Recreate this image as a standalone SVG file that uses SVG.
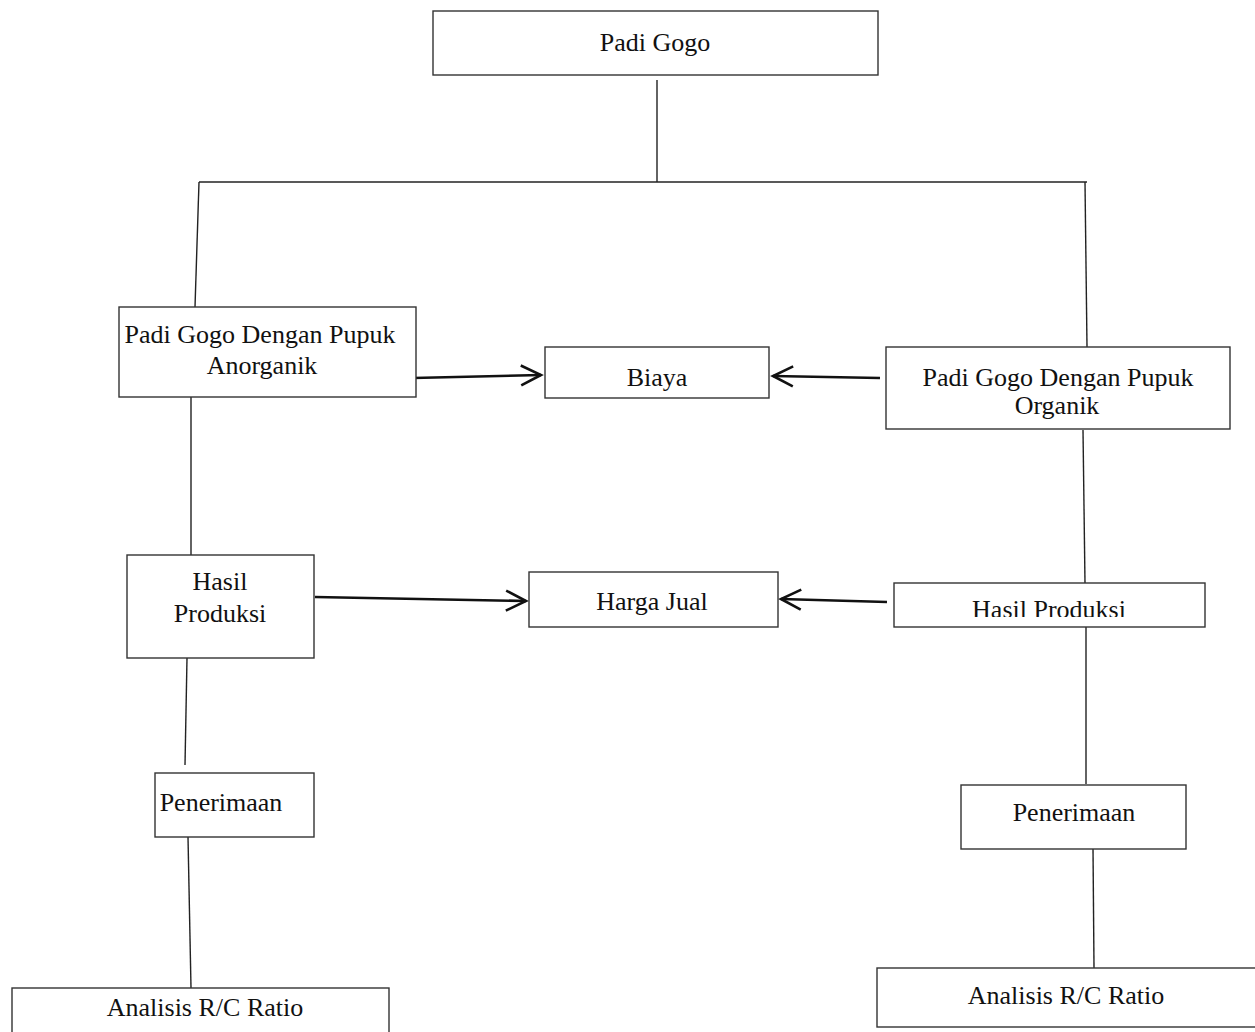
<svg xmlns="http://www.w3.org/2000/svg" width="1255" height="1032" viewBox="0 0 1255 1032">
<style>
.box{fill:#fff;stroke:#333;stroke-width:1.4}
.ln{fill:none;stroke:#222;stroke-width:1.4}
.ar{fill:none;stroke:#111;stroke-width:2.6}
text{font-family:"Liberation Serif","Times New Roman",serif;font-size:26px;fill:#111;text-anchor:middle}
</style>
<defs>
<marker id="chev" viewBox="0 0 26 26" markerWidth="26" markerHeight="26" refX="23" refY="13" orient="auto" markerUnits="userSpaceOnUse">
<path d="M3,3 L23,13 L3,23" fill="none" stroke="#111" stroke-width="2.6"/>
</marker>
<clipPath id="hpclip"><rect x="894" y="583" width="311" height="34"/></clipPath>
</defs>
<rect width="1255" height="1032" fill="#fff"/>
<g id="connectors">
<line class="ln" x1="657" y1="80" x2="657" y2="182"/>
<line class="ln" x1="199" y1="182" x2="1087" y2="182"/>
<line class="ln" x1="199" y1="182" x2="195" y2="307"/>
<line class="ln" x1="1085" y1="182" x2="1087" y2="347"/>
<line class="ln" x1="191" y1="397" x2="191" y2="556"/>
<line class="ln" x1="1083" y1="430" x2="1085" y2="583"/>
<line class="ln" x1="1086" y1="627" x2="1086" y2="784"/>
<line class="ln" x1="187" y1="658" x2="185" y2="765"/>
<line class="ln" x1="188" y1="837" x2="191" y2="988"/>
<line class="ln" x1="1093" y1="848" x2="1094" y2="968"/>
<line class="ar" x1="413" y1="378" x2="541" y2="375" marker-end="url(#chev)"/>
<line class="ar" x1="880" y1="378" x2="773" y2="376" marker-end="url(#chev)"/>
<line class="ar" x1="315" y1="597" x2="526" y2="601" marker-end="url(#chev)"/>
<line class="ar" x1="887" y1="602" x2="781" y2="599" marker-end="url(#chev)"/>
</g>
<g id="padi-gogo">
<rect class="box" x="433" y="11" width="445" height="64"/>
<text x="655" y="51">Padi Gogo</text>
</g>
<g id="anorganik">
<rect class="box" x="119" y="307" width="297" height="90"/>
<text x="260" y="343">Padi Gogo Dengan Pupuk</text>
<text x="262" y="374">Anorganik</text>
</g>
<g id="biaya">
<rect class="box" x="545" y="347" width="224" height="51"/>
<text x="657" y="386">Biaya</text>
</g>
<g id="organik">
<rect class="box" x="886" y="347" width="344" height="82"/>
<text x="1058" y="386">Padi Gogo Dengan Pupuk</text>
<text x="1057" y="414">Organik</text>
</g>
<g id="hasil-kiri">
<rect class="box" x="127" y="555" width="187" height="103"/>
<text x="220" y="590">Hasil</text>
<text x="220" y="622">Produksi</text>
</g>
<g id="harga-jual">
<rect class="box" x="529" y="572" width="249" height="55"/>
<text x="652" y="610">Harga Jual</text>
</g>
<g id="hasil-kanan">
<rect class="box" x="894" y="583" width="311" height="44"/>
<text x="1049" y="618" clip-path="url(#hpclip)">Hasil Produksi</text>
</g>
<g id="penerimaan-kiri">
<rect class="box" x="155" y="773" width="159" height="64"/>
<text x="221" y="811">Penerimaan</text>
</g>
<g id="penerimaan-kanan">
<rect class="box" x="961" y="785" width="225" height="64"/>
<text x="1074" y="821">Penerimaan</text>
</g>
<g id="analisis-kiri">
<rect class="box" x="12" y="988" width="377" height="60"/>
<text x="205" y="1016">Analisis R/C Ratio</text>
</g>
<g id="analisis-kanan">
<rect class="box" x="877" y="968" width="390" height="59"/>
<text x="1066" y="1004">Analisis R/C Ratio</text>
</g>
</svg>
